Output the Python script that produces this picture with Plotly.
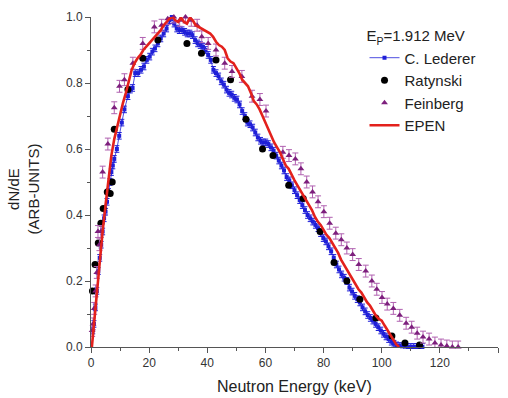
import plotly.graph_objects as go

# ---------------- data ----------------
lederer_x = [0.6, 1.0, 1.5, 2.0, 2.5, 3.0, 3.5, 4.0, 4.5, 5.0, 5.5, 6.0, 6.5, 7.0, 7.5, 8.0,
             8.9, 9.7, 10.6, 11.5, 12.7, 13.5, 14.3, 15.2, 16.2, 17.2, 18.2, 19.2, 20.2, 21.1,
             22.0, 23.0, 24.0, 25.0, 26.0, 27.0, 27.8, 28.6, 29.5, 30.4, 31.3, 32.2, 33.1, 34.0,
             34.9, 35.8, 36.7, 37.6, 38.5, 39.4, 40.3, 41.2, 42.1, 43.0, 43.9, 44.8, 45.7, 46.6,
             47.5, 48.4, 49.3, 50.2, 51.1, 52.0, 52.9, 53.8, 54.7, 55.6, 56.5, 57.4, 58.3, 59.2,
             60.1, 61.0, 61.9, 62.8, 63.7, 64.6, 65.5, 66.4, 67.3, 68.2, 69.1, 70.0, 70.9, 71.8,
             72.7, 73.6, 74.5, 75.4, 76.3, 77.2, 78.1, 79.0, 79.9, 80.8, 81.7, 82.6, 83.5, 84.4,
             85.3, 86.2, 87.1, 88.0, 88.9, 89.8, 90.7, 91.6, 92.5, 93.4, 94.3, 95.2, 96.1, 97.0,
             97.9, 98.8, 99.7, 100.6, 101.5, 102.4, 103.3, 104.2, 105.1, 106.0, 107.0, 108.0,
             109.0, 110.0, 111.0, 112.0, 113.0, 114.0]
lederer_y = [0.05, 0.07, 0.12, 0.17, 0.23, 0.27, 0.31, 0.35, 0.39, 0.41, 0.44, 0.47, 0.50, 0.53, 0.55, 0.57,
             0.60, 0.64, 0.68, 0.72, 0.76, 0.78, 0.785, 0.83, 0.83, 0.84, 0.85, 0.87, 0.88, 0.895,
             0.905, 0.92, 0.935, 0.95, 0.965, 0.99, 1.0, 0.98, 0.965, 0.96, 0.96, 0.955, 0.95, 0.95,
             0.945, 0.93, 0.92, 0.915, 0.91, 0.90, 0.885, 0.87, 0.84, 0.83, 0.82, 0.805, 0.795, 0.78,
             0.77, 0.765, 0.755, 0.75, 0.735, 0.715, 0.70, 0.68, 0.675, 0.665, 0.65, 0.635, 0.625, 0.62,
             0.62, 0.615, 0.605, 0.595, 0.58, 0.565, 0.55, 0.535, 0.515, 0.505, 0.49, 0.475, 0.46, 0.445,
             0.43, 0.415, 0.40, 0.39, 0.38, 0.37, 0.36, 0.345, 0.33, 0.32, 0.305, 0.29, 0.27, 0.25,
             0.235, 0.22, 0.21, 0.20, 0.18, 0.168, 0.155, 0.145, 0.135, 0.12, 0.108, 0.097, 0.088, 0.08,
             0.07, 0.06, 0.05, 0.04, 0.032, 0.024, 0.016, 0.01, 0.005, 0.003, 0.002, 0.001,
             0.0, 0.0, 0.0, 0.0, 0.0, 0.0]

ratynski_x = [0.5, 1.4, 2.5, 3.4, 4.2, 5.6, 6.6, 7.3, 8.0, 12.7, 17.8, 23.0, 33.0, 38.0, 43.0,
              48.0, 53.3, 59.0, 62.6, 68.0, 73.0, 78.8, 83.6, 88.0, 92.5, 98.0, 103.5, 108.0, 113.0]
ratynski_y = [0.17, 0.25, 0.315, 0.375, 0.42, 0.47, 0.465, 0.50, 0.66, 0.78, 0.875, 0.93, 0.92, 0.89, 0.87,
              0.81, 0.69, 0.60, 0.58, 0.49, 0.45, 0.35, 0.256, 0.20, 0.145, 0.088, 0.033, 0.012, 0.006]

feinberg_x = [0.4, 0.7, 1.1, 1.6, 2.0, 2.4, 2.9, 3.4, 4.0, 5.8, 8.0, 9.8, 11.5, 14.4, 17.8, 21.8,
              24.3, 26.4, 28.5, 30.5, 32.5, 34.5, 36.5, 38.1, 40.3, 43.0, 46.0, 48.5, 51.9, 55.4,
              58.1, 60.2, 66.0, 68.1, 70.3, 72.2, 74.2, 76.2, 78.1, 80.1, 82.1, 84.2, 86.1, 88.0,
              90.0, 92.1, 94.5, 96.6, 98.3, 100.1, 101.9, 104.0, 106.2, 108.4, 110.3, 112.2, 114.2,
              116.3, 118.3, 120.4, 122.4, 124.3, 126.3]
feinberg_y = [0.05, 0.07, 0.117, 0.17, 0.226, 0.35, 0.31, 0.35, 0.53, 0.615, 0.725, 0.79, 0.81, 0.86, 0.92, 0.97,
              0.975, 0.995, 1.0, 0.99, 1.0, 0.99, 0.975, 0.94, 0.92, 0.90, 0.86, 0.835, 0.82, 0.76,
              0.75, 0.715, 0.59, 0.58, 0.57, 0.54, 0.50, 0.47, 0.44, 0.41, 0.375, 0.345, 0.325, 0.30,
              0.28, 0.25, 0.23, 0.20, 0.175, 0.15, 0.13, 0.117, 0.096, 0.072, 0.06, 0.042, 0.03,
              0.024, 0.012, 0.006, 0.003, 0.0, 0.0]

epen_x = [0.3, 1, 2, 3, 4, 5, 6, 7, 8, 9, 10, 11, 12, 13, 14, 15, 16, 17, 18, 19, 20, 21, 22, 23, 24,
          25, 26, 27, 28, 29, 30, 31, 32, 33, 34, 35, 36, 37, 38, 39, 40, 41, 42, 43, 44, 45, 46, 47,
          48, 49, 50, 51, 52, 53, 54, 55, 56, 57, 58, 59, 60, 61, 62, 63, 64, 65, 66, 67, 68, 69, 70,
          71, 72, 73, 74, 75, 76, 77, 78, 79, 80, 81, 82, 83, 84, 85, 86, 87, 88, 89, 90, 91, 92, 93,
          94, 95, 96, 97, 98, 99, 100, 101, 102, 103, 104, 105, 106]
epen_y = [0.0, 0.07, 0.17, 0.26, 0.35, 0.43, 0.51, 0.58, 0.63, 0.67, 0.71, 0.74, 0.77, 0.81, 0.84, 0.86,
          0.875, 0.885, 0.90, 0.91, 0.92, 0.93, 0.94, 0.95, 0.96, 0.975, 0.985, 0.995, 1.0, 0.99, 0.985,
          0.998, 0.985, 0.98, 0.998, 0.99, 0.975, 0.97, 0.965, 0.96, 0.955, 0.95, 0.94, 0.925, 0.915,
          0.91, 0.9, 0.875, 0.865, 0.86, 0.845, 0.83, 0.81, 0.80, 0.79, 0.77, 0.745, 0.735, 0.72, 0.70,
          0.68, 0.655, 0.64, 0.62, 0.605, 0.59, 0.57, 0.55, 0.54, 0.52, 0.505, 0.49, 0.475, 0.46, 0.445,
          0.43, 0.415, 0.395, 0.38, 0.37, 0.355, 0.34, 0.33, 0.315, 0.30, 0.285, 0.265, 0.25, 0.235,
          0.22, 0.205, 0.19, 0.175, 0.165, 0.15, 0.135, 0.125, 0.11, 0.095, 0.085, 0.08, 0.065, 0.05,
          0.035, 0.02, 0.008, 0.0]

x_ticks = [0, 20, 40, 60, 80, 100, 120, 140]
y_ticks = [0.0, 0.2, 0.4, 0.6, 0.8, 1.0]

# ---------------- figure ----------------
fig = go.Figure()

fig.add_trace(go.Scatter(
    x=lederer_x, y=lederer_y, mode="lines+markers", name="C. Lederer",
    line=dict(color="#1f1fd8", width=0.8),
    marker=dict(color="#1f1fd8", size=4, symbol="square"),
    error_y=dict(type="constant", value=0.01, color="#1f1fd8", thickness=1, width=2.5),
    cliponaxis=False))

fig.add_trace(go.Scatter(
    x=ratynski_x, y=ratynski_y, mode="markers", name="Ratynski",
    marker=dict(color="black", size=7, symbol="circle"),
    cliponaxis=False))

fig.add_trace(go.Scatter(
    x=feinberg_x, y=feinberg_y, mode="markers", name="Feinberg",
    marker=dict(color="#7d1f7d", size=6, symbol="triangle-up"),
    error_y=dict(type="constant", value=0.018, color="#b060b0", thickness=1, width=3),
    cliponaxis=False))

fig.add_trace(go.Scatter(
    x=epen_x, y=epen_y, mode="lines", name="EPEN",
    line=dict(color="#e3211c", width=2.6),
    cliponaxis=False))

axis_common = dict(
    showgrid=False, zeroline=False, showline=True, linecolor="#555555", linewidth=1,
    ticks="outside", ticklen=5, tickwidth=1, tickcolor="#555555",
    tickfont=dict(family="Liberation Sans, Arial, sans-serif", size=12, color="#333333"),
)

fig.update_xaxes(range=[0, 140], tickvals=x_ticks, ticktext=[str(v) for v in x_ticks],
                 minor=dict(ticks="outside", ticklen=3, tickcolor="#555555", dtick=10, tick0=0),
                 **axis_common)
fig.update_yaxes(range=[0, 1.0], tickvals=y_ticks, ticktext=["%.1f" % v for v in y_ticks],
                 minor=dict(ticks="outside", ticklen=3, tickcolor="#555555", dtick=0.1, tick0=0),
                 **axis_common)

fig.update_layout(
    width=508, height=398,
    margin=dict(l=91, r=10, t=15, b=51),
    paper_bgcolor="white", plot_bgcolor="white",
    font=dict(family="Liberation Sans, Arial, sans-serif", color="#222222"),
    legend=dict(
        x=0.672, y=0.985, xanchor="left", yanchor="top",
        bgcolor="rgba(0,0,0,0)", borderwidth=0,
        font=dict(size=15, color="#222222"),
        title=dict(text="E<sub>P</sub>=1.912 MeV", font=dict(size=15, color="#222222")),
        itemwidth=30, tracegroupgap=0,
    ),
    annotations=[
        dict(text="Neutron Energy (keV)", xref="paper", yref="paper", x=0.5, y=-0.12,
             xanchor="center", yanchor="middle", showarrow=False,
             font=dict(size=16, color="#222222")),
        dict(text="dN/dE<br>(ARB-UNITS)", xref="paper", yref="paper", x=-0.165, y=0.48,
             xanchor="center", yanchor="middle", showarrow=False, textangle=-90,
             font=dict(size=15, color="#222222")),
    ],
)

fig.write_html("out.html")
